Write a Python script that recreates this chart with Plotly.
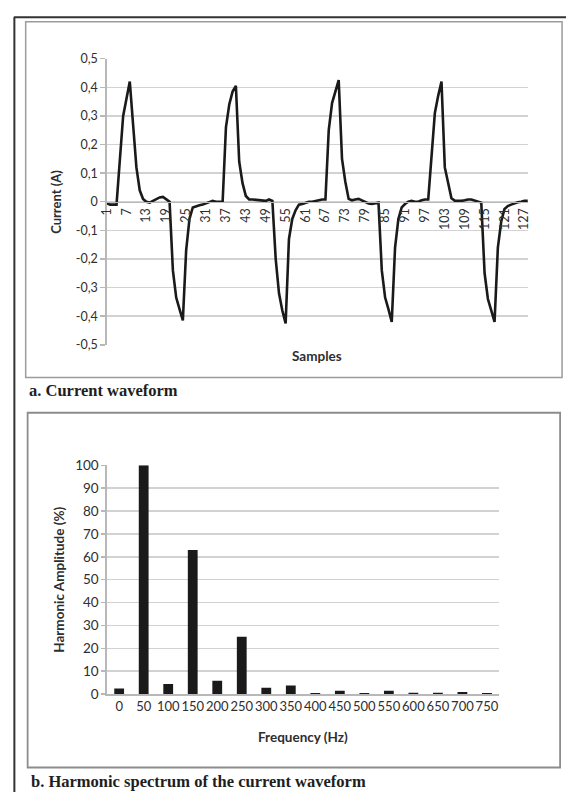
import plotly.graph_objects as go

# ---------------- data ----------------
samples = list(range(1, 129))
current = [
    -0.005, -0.01, -0.01, -0.01, 0.145, 0.30, 0.36, 0.42, 0.27, 0.12,
    0.04, 0.01, 0.0, -0.003, 0.003, 0.01, 0.015, 0.017, 0.01, 0.0,
    -0.24, -0.335, -0.375, -0.415, -0.17, -0.06, -0.02, -0.015, -0.012, -0.01,
    -0.005, 0.0, 0.003, 0.0, 0.0, 0.0, 0.26, 0.34, 0.385, 0.405,
    0.14, 0.065, 0.02, 0.008, 0.008, 0.007, 0.006, 0.005, 0.003, 0.008,
    0.003, -0.2, -0.32, -0.38, -0.425, -0.13, -0.06, -0.03, -0.01, -0.008,
    -0.005, 0.0, 0.0, 0.003, 0.006, 0.008, 0.008, 0.25, 0.345, 0.39,
    0.425, 0.15, 0.07, 0.01, 0.005, 0.008, 0.01, 0.005, 0.0, -0.006,
    -0.008, -0.005, -0.003, -0.24, -0.335, -0.375, -0.42, -0.16, -0.06, -0.02,
    -0.008, 0.0, 0.003, 0.0, 0.0, 0.005, 0.008, 0.008, 0.16, 0.31,
    0.37, 0.42, 0.12, 0.06, 0.012, 0.004, 0.003, 0.003, 0.005, 0.008,
    0.008, 0.004, 0.0, -0.003, -0.25, -0.34, -0.38, -0.42, -0.16, -0.07,
    -0.025, -0.015, -0.01, -0.005, -0.002, 0.0, 0.003, 0.003,
]
sample_tickvals = list(range(1, 128, 6))
sample_ticktext = [str(v) for v in sample_tickvals]
current_tickvals = [0.5, 0.4, 0.3, 0.2, 0.1, 0, -0.1, -0.2, -0.3, -0.4, -0.5]
current_ticktext = ["0,5", "0,4", "0,3", "0,2", "0,1", "0",
                    "-0,1", "-0,2", "-0,3", "-0,4", "-0,5"]

freq_labels = ["0", "50", "100", "150", "200", "250", "300", "350",
               "400", "450", "500", "550", "600", "650", "700", "750"]
harmonic_amp = [2.4, 100, 4.4, 63, 5.8, 25, 2.7, 3.7,
                0.4, 1.4, 0.4, 1.4, 0.6, 0.6, 0.9, 0.4]
amp_tickvals = list(range(0, 101, 10))

# ---------------- layout helpers ----------------
W, H = 569, 800
def fx(px):
    return px / W
def fy(py):
    return 1 - py / H

TOP_L, TOP_R, TOP_T, TOP_B, ZERO_Y = 100, 530.7, 51.7, 343.7, 197.7
BOT_L, BOT_R, BOT_T, BOT_B = 101.7, 501, 466.7, 700

XL_FONT = "Lato"
TXT = "#2e2e2e"
GRID = "#d2d2d2"
AXIS = "#b8b8b8"

fig = go.Figure()
fig.add_trace(go.Scatter(
    x=samples, y=current, mode="lines",
    line=dict(color="#1a1a1a", width=2.6),
    xaxis="x", yaxis="y", showlegend=False, hoverinfo="skip"))
fig.add_trace(go.Bar(
    x=freq_labels, y=harmonic_amp,
    marker=dict(color="#1a1a1a", line=dict(width=0)),
    xaxis="x2", yaxis="y2", showlegend=False, hoverinfo="skip"))

fig.update_layout(
    width=W, height=H, margin=dict(l=0, r=0, t=0, b=0),
    paper_bgcolor="white", plot_bgcolor="white",
    bargap=0.6,
    xaxis=dict(
        domain=[fx(TOP_L), fx(TOP_R)], range=[0.6, 128.2],
        anchor="free", position=fy(ZERO_Y),
        tickmode="array", tickvals=sample_tickvals, ticktext=sample_ticktext,
        tickangle=-90, showgrid=False, zeroline=False,
        showline=True, linecolor=AXIS, linewidth=1.5, ticks="",
        tickfont=dict(family=XL_FONT, size=12.5, color=TXT)),
    yaxis=dict(
        domain=[fy(TOP_B), fy(TOP_T)], range=[-0.5, 0.5],
        anchor="free", position=fx(TOP_L),
        tickmode="array", tickvals=current_tickvals, ticktext=current_ticktext,
        showgrid=True, gridcolor=GRID, gridwidth=1.5, zeroline=False,
        showline=True, linecolor=AXIS, linewidth=1.5,
        ticks="outside", ticklen=5, tickcolor=AXIS, tickwidth=1.5,
        tickfont=dict(family=XL_FONT, size=12.5, color=TXT)),
    xaxis2=dict(
        domain=[fx(BOT_L), fx(BOT_R)], anchor="y2",
        type="category", tickangle=0, showgrid=False, zeroline=False,
        showline=True, linecolor=AXIS, linewidth=1.5, ticks="",
        tickfont=dict(family=XL_FONT, size=13, color=TXT)),
    yaxis2=dict(
        domain=[fy(BOT_B), fy(BOT_T)], anchor="x2", range=[0, 100],
        tickmode="array", tickvals=amp_tickvals,
        showgrid=True, gridcolor=GRID, gridwidth=1.5, zeroline=False,
        showline=True, linecolor=AXIS, linewidth=1.5,
        ticks="outside", ticklen=4, tickcolor=AXIS, tickwidth=1.5,
        tickfont=dict(family=XL_FONT, size=13.5, color=TXT)),
)

def ann(text, x, y, size, angle=0, family=XL_FONT, bold=True, xanchor="center", color=TXT):
    fig.add_annotation(
        text=f"<b>{text}</b>" if bold else text,
        x=fx(x), y=fy(y), xref="paper", yref="paper",
        xanchor=xanchor, yanchor="middle", textangle=angle,
        showarrow=False, font=dict(family=family, size=size, color=color))

ann("Current (A)", 50, ZERO_Y, 13, angle=-90)
ann("Samples", (TOP_L + TOP_R) / 2, 355, 13.5)
ann("Harmonic Amplitude (%)", 53, (BOT_T + BOT_B) / 2, 13.5, angle=-90)
ann("Frequency (Hz)", (BOT_L + BOT_R) / 2, 744, 13.5)
ann("a. Current waveform", 20, 390, 16.5, family="Liberation Serif", xanchor="left", color="#1e1e1e")
ann("b. Harmonic spectrum of the current waveform", 22, 789, 16.5,
    family="Liberation Serif", xanchor="left", color="#1e1e1e")

def line(x0, y0, x1, y1, color, width):
    fig.add_shape(type="line", xref="paper", yref="paper",
                  x0=fx(x0), y0=fy(y0), x1=fx(x1), y1=fy(y1),
                  line=dict(color=color, width=width))

def rect(x0, y0, x1, y1, color, width):
    fig.add_shape(type="rect", xref="paper", yref="paper",
                  x0=fx(x0), y0=fy(y0), x1=fx(x1), y1=fy(y1),
                  line=dict(color=color, width=width), fillcolor="rgba(0,0,0,0)")

line(7.5, 9.5, 7.5, 800, "#333333", 2)
line(7, 9.5, 569, 9.5, "#333333", 2)
rect(19, 14, 565, 377, "#9c9c9c", 1.5)
rect(21, 413, 563, 775, "#8c8c8c", 1.8)

fig.write_html(
    "out.html",
    config={"displayModeBar": False, "staticPlot": True},
    post_script="document.body.style.margin='0';document.body.style.overflow='hidden';",
)
